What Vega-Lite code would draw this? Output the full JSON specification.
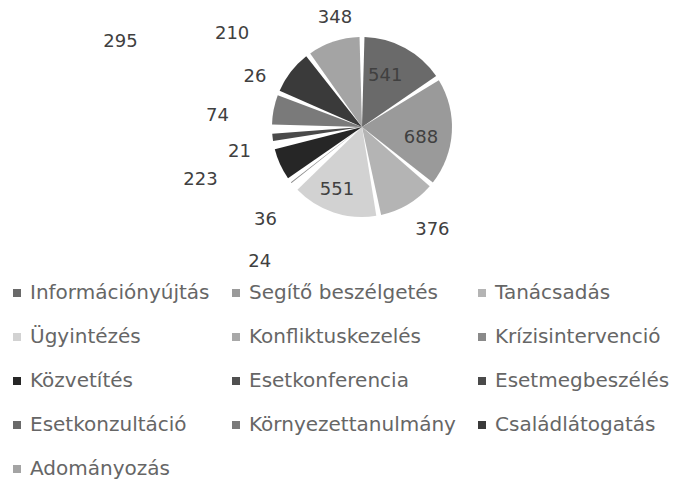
{
  "$schema": "https://vega.github.io/schema/vega-lite/v6.json",
  "autosize": {"type": "none"},
  "padding": {"left": 33, "top": 0, "right": 0, "bottom": 241},
  "width": 658,
  "height": 254,
  "background": "white",
  "config": {"text": {"font": "DejaVu Sans", "fontSize": 18, "color": "#404040"}},
  "data": {
    "values": [
      {"kategoria": "Információnyújtás", "ertek": 541},
      {"kategoria": "Segítő beszélgetés", "ertek": 688},
      {"kategoria": "Tanácsadás", "ertek": 376},
      {"kategoria": "Ügyintézés", "ertek": 551},
      {"kategoria": "Konfliktuskezelés", "ertek": 24},
      {"kategoria": "Krízisintervenció", "ertek": 36},
      {"kategoria": "Közvetítés", "ertek": 223},
      {"kategoria": "Esetkonferencia", "ertek": 21},
      {"kategoria": "Esetmegbeszélés", "ertek": 74},
      {"kategoria": "Esetkonzultáció", "ertek": 26},
      {"kategoria": "Környezettanulmány", "ertek": 210},
      {"kategoria": "Családlátogatás", "ertek": 295},
      {"kategoria": "Adományozás", "ertek": 348}
    ]
  },
  "transform": [{"window": [{"op": "row_number", "as": "sorrend"}]}],
  "encoding": {
    "theta": {"field": "ertek", "type": "quantitative", "stack": true},
    "order": {"field": "sorrend", "type": "quantitative"},
    "detail": {"field": "kategoria", "type": "nominal"}
  },
  "layer": [
    {
      "mark": {"type": "arc", "radius": 90, "padAngle": 0.055, "stroke": null},
      "encoding": {
        "color": {
          "field": "kategoria",
          "type": "nominal",
          "scale": {
            "domain": ["Információnyújtás", "Segítő beszélgetés", "Tanácsadás", "Ügyintézés", "Konfliktuskezelés", "Krízisintervenció", "Közvetítés", "Esetkonferencia", "Esetmegbeszélés", "Esetkonzultáció", "Környezettanulmány", "Családlátogatás", "Adományozás"],
            "range": ["#6a6a6a", "#9a9a9a", "#b4b4b4", "#d2d2d2", "#a8a8a8", "#8a8a8a", "#262626", "#505050", "#4a4a4a", "#6a6a6a", "#7a7a7a", "#3a3a3a", "#a4a4a4"]
          },
          "legend": {
            "title": null,
            "orient": "none",
            "legendX": -26,
            "legendY": 283,
            "direction": "horizontal",
            "columns": 3,
            "padding": 0,
            "columnPadding": 16,
            "rowPadding": 24,
            "symbolType": "square",
            "symbolSize": 64,
            "symbolStrokeWidth": 0,
            "labelOffset": 3,
            "labelFont": "DejaVu Sans",
            "labelFontSize": 20,
            "labelColor": "#666666",
            "labelLimit": 300
          }
        }
      }
    },
    {"mark": {"type": "text", "radius": 56, "thetaOffset": -0.07},
     "encoding": {"text": {"condition": {"test": "datum.kategoria == 'Információnyújtás'", "field": "ertek", "type": "quantitative"}, "value": ""}}},
    {"mark": {"type": "text", "radius": 60, "thetaOffset": 0.126},
     "encoding": {"text": {"condition": {"test": "datum.kategoria == 'Segítő beszélgetés'", "field": "ertek", "type": "quantitative"}, "value": ""}}},
    {"mark": {"type": "text", "radius": 125, "thetaOffset": -0.065},
     "encoding": {"text": {"condition": {"test": "datum.kategoria == 'Tanácsadás'", "field": "ertek", "type": "quantitative"}, "value": ""}}},
    {"mark": {"type": "text", "radius": 68, "thetaOffset": 0.056},
     "encoding": {"text": {"condition": {"test": "datum.kategoria == 'Ügyintézés'", "field": "ertek", "type": "quantitative"}, "value": ""}}},
    {"mark": {"type": "text", "radius": 169, "thetaOffset": -0.2},
     "encoding": {"text": {"condition": {"test": "datum.kategoria == 'Konfliktuskezelés'", "field": "ertek", "type": "quantitative"}, "value": ""}}},
    {"mark": {"type": "text", "radius": 134, "thetaOffset": -0.1},
     "encoding": {"text": {"condition": {"test": "datum.kategoria == 'Krízisintervenció'", "field": "ertek", "type": "quantitative"}, "value": ""}}},
    {"mark": {"type": "text", "radius": 170, "thetaOffset": 0.11},
     "encoding": {"text": {"condition": {"test": "datum.kategoria == 'Közvetítés'", "field": "ertek", "type": "quantitative"}, "value": ""}}},
    {"mark": {"type": "text", "radius": 125, "thetaOffset": 0},
     "encoding": {"text": {"condition": {"test": "datum.kategoria == 'Esetkonferencia'", "field": "ertek", "type": "quantitative"}, "value": ""}}},
    {"mark": {"type": "text", "radius": 145, "thetaOffset": 0.19},
     "encoding": {"text": {"condition": {"test": "datum.kategoria == 'Esetmegbeszélés'", "field": "ertek", "type": "quantitative"}, "value": ""}}},
    {"mark": {"type": "text", "radius": 118, "thetaOffset": 0.46},
     "encoding": {"text": {"condition": {"test": "datum.kategoria == 'Esetkonzultáció'", "field": "ertek", "type": "quantitative"}, "value": ""}}},
    {"mark": {"type": "text", "radius": 160, "thetaOffset": 0.43},
     "encoding": {"text": {"condition": {"test": "datum.kategoria == 'Környezettanulmány'", "field": "ertek", "type": "quantitative"}, "value": ""}}},
    {"mark": {"type": "text", "radius": 256, "thetaOffset": -0.32},
     "encoding": {"text": {"condition": {"test": "datum.kategoria == 'Családlátogatás'", "field": "ertek", "type": "quantitative"}, "value": ""}}},
    {"mark": {"type": "text", "radius": 112, "thetaOffset": 0.077},
     "encoding": {"text": {"condition": {"test": "datum.kategoria == 'Adományozás'", "field": "ertek", "type": "quantitative"}, "value": ""}}}
  ]
}
